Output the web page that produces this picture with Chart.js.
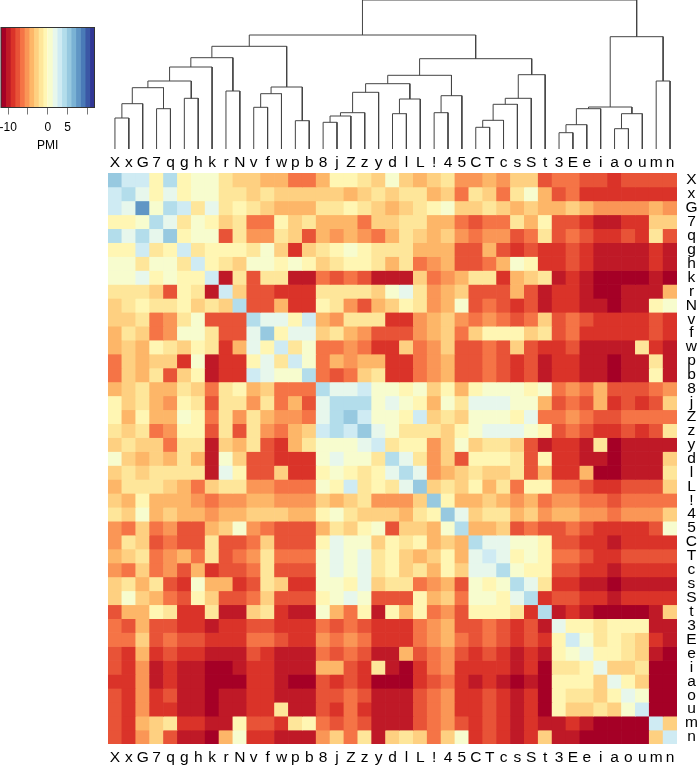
<!DOCTYPE html>
<html>
<head>
<meta charset="utf-8">
<script src="https://cdn.jsdelivr.net/npm/chart.js@4"></script>
<style>
  html, body { margin: 0; background: #fff; }
  canvas { position: absolute; }
</style>
</head>
<body>
<canvas id="key" width="110" height="160" style="left:0;top:0"></canvas>
<canvas id="tree" width="569" height="150" style="left:108px;top:0"></canvas>
<canvas id="heat" width="597" height="616" style="left:100px;top:150px"></canvas>
<script>
// labels, same order on rows and columns
var labels = ["X","x","G","7","q","g","h","k","r","N","v","f","w","p","b","8","j","Z","z","y","d","l","L","!","4","5","C","T","c","s","S","t","3","E","e","i","a","o","u","m","n"];

// PMI, one array per row
var pmi = [
[5,3,3,-1,4,-1,1,1,-2,-3,-3,-4,-4,-7,-7,-4,-1,-1,-2,-3,1,-3,-4,-3,-2,-5,-5,-4,-5,-3,-3,-8,-7,-7,-8,-8,-9,-8,-8,-8,-8],
[3,4,2,-1,2,-1,1,1,-2,-2,-3,-2,-3,-3,-3,-3,-3,-4,-3,-2,-3,-2,-2,-4,-3,-7,-2,-3,-7,-2,1,-4,-8,-7,-9,-9,-9,-9,-9,-9,-9],
[3,2,8,1,4,3,-2,2,-2,-1,-2,-3,-4,-4,-4,-2,-2,-1,-2,-3,-4,-3,-2,-1,1,-3,-3,-2,-3,-4,-3,-4,-4,-3,-4,-5,-5,-5,-5,-4,-5],
[-1,-1,1,4,2,-2,1,-1,-3,-2,-7,-7,-1,-3,-2,-4,-4,-4,-7,-3,-3,-2,-2,-4,-4,-7,-8,-7,-7,-2,-4,-1,-8,-8,-9,-10,-10,-9,-9,-3,-3],
[4,2,4,2,5,-1,1,1,-8,-2,-5,-5,-2,-3,-8,-4,-5,-4,-5,-7,-4,-2,-3,-4,-3,-5,-7,-5,-5,-8,-7,-2,-8,-7,-8,-9,-9,-8,-9,-2,-8],
[-1,-1,3,-2,-1,3,-2,-1,-1,-1,-2,1,-3,-9,-3,-2,-1,1,-1,-2,-2,-2,-4,-4,-4,-8,-8,-4,-8,-9,-8,-9,-9,-8,-9,-10,-10,-10,-10,-9,-10],
[1,1,-2,1,1,-2,3,-1,-2,-3,1,1,-1,1,-1,-3,-2,-1,-1,-2,-4,-2,-7,-5,-4,-8,-8,-7,-4,1,-1,-9,-9,-8,-9,-10,-10,-10,-10,-9,-10],
[1,1,2,-1,1,-1,-1,3,-10,-2,-8,-2,-2,-10,-10,-7,-8,-7,-8,-10,-10,-10,-3,-7,-5,-4,-2,-2,-9,-4,-3,-2,-10,-9,-10,-11,-11,-11,-11,-10,-11],
[-2,-2,-2,-3,-8,-1,-2,-10,3,-3,-8,-8,-9,-9,-9,-2,-2,-2,-2,-3,1,2,-2,-5,-4,-3,-8,-8,-8,-4,-8,-10,-9,-9,-10,-11,-11,-10,-10,-10,-4],
[-3,-2,-1,-2,-2,-1,-3,-2,-3,4,-8,-8,-4,-9,-9,-1,-2,-5,-8,-4,-3,-1,-2,-5,-4,1,-8,-7,-8,-9,-8,-10,-9,-9,-10,-10,-11,-10,-10,-1,1],
[-3,-3,-2,-7,-5,-2,1,-8,-8,-8,4,2,2,-1,3,-4,-5,-2,-2,-2,-9,-9,-5,-4,-3,-5,-7,-5,-7,-8,-7,-3,-8,-7,-8,-9,-9,-9,-9,-8,-9],
[-4,-2,-3,-7,-5,1,1,-2,-8,-8,2,5,-1,2,2,-3,-2,-4,-5,-8,-8,-8,-5,-4,-3,-7,-3,-1,-1,-1,-3,-2,-8,-7,-9,-9,-9,-9,-9,-8,-9],
[-4,-3,-4,-1,-2,-3,-1,-2,-9,-4,2,-1,3,-2,1,-7,-7,-5,-7,-9,-9,-3,-7,-5,-3,-8,-8,-7,-8,-3,-8,-9,-9,-8,-10,-10,-10,-10,-2,-9,-10],
[-7,-3,-4,-3,-3,-9,1,-10,-9,-9,-1,2,-2,3,1,-7,-4,-5,-4,-4,-9,-9,-7,-5,-4,-8,-8,-7,-8,-9,-8,-10,-9,-9,-10,-10,-11,-10,-10,-2,-10],
[-7,-3,-4,-2,-8,-3,-1,-10,-9,-9,3,2,1,1,4,-7,-8,-7,-3,-2,-9,-9,-7,-5,-4,-8,-8,-7,-8,-9,-8,-10,-9,-9,-10,-10,-11,-10,-10,-1,-10],
[-4,-3,-2,-4,-4,-2,-3,-7,-2,-1,-4,-3,-7,-7,-7,4,2,2,3,1,1,-1,1,-3,-1,-4,-1,1,1,1,-1,1,-7,-5,-7,-4,-8,-8,-8,-7,-5],
[-1,-3,-2,-4,-5,-1,-2,-8,-2,-2,-5,-2,-7,-4,-8,2,4,4,4,1,2,1,-1,-4,1,-2,2,2,2,1,1,-4,-8,-7,-8,-4,-9,-8,-9,-8,-3],
[-1,-4,-1,-4,-4,1,-1,-7,-2,-5,-2,-4,-5,-5,-7,2,4,5,3,1,1,-1,3,-3,-2,-3,1,1,1,-1,2,-7,-7,-5,-7,-8,-8,-7,-7,-7,-7],
[-2,-3,-2,-7,-5,-1,-1,-8,-2,-8,-2,-5,-7,-4,-3,3,4,3,5,2,1,-2,-2,-2,-3,-1,1,2,2,2,1,-1,-8,-7,-8,-9,-9,-8,-9,-8,-2],
[-3,-2,-3,-3,-7,-2,-2,-10,-3,-4,-2,-8,-9,-4,-2,1,1,1,2,3,-2,-1,-1,-5,-3,1,-3,-2,-2,-3,-8,-10,-9,-9,-10,-2,-11,-10,-10,-10,-10],
[1,-3,-4,-3,-4,-2,-4,-10,1,-3,-8,-8,-9,-9,-9,1,2,1,1,-2,4,2,-2,-5,-3,-8,-1,-1,-1,-2,-8,-1,-9,-9,-10,-10,-11,-10,-10,-10,-3],
[-3,-2,-3,-2,-2,-2,-2,-10,2,-1,-8,-8,-3,-9,-9,-1,1,-1,-2,-1,2,4,2,-5,-4,-3,-2,-3,-3,-2,-8,-4,-9,-9,-4,-11,-11,-10,-10,-10,-2],
[-4,-2,-2,-2,-3,-4,-7,-3,-2,-2,-5,-5,-7,-7,-7,1,-1,3,-2,-1,-2,2,5,-3,-2,-3,-1,-4,-2,-7,-1,-1,-7,-7,-8,-9,-9,-8,-8,-8,-3],
[-3,-4,-1,-4,-4,-4,-5,-7,-5,-5,-4,-4,-5,-5,-5,-3,-4,-3,-2,-5,-5,-5,-3,5,-1,-4,-4,-3,-4,-5,-4,-7,-5,-5,-7,-7,-8,-7,-7,-7,-7],
[-2,-3,1,-4,-3,-4,-4,-5,-4,-4,-3,-3,-3,-4,-4,-1,1,-2,-3,-3,-3,-4,-2,-1,5,2,-3,-2,-2,-4,-3,-5,-4,-4,-5,-5,-7,-5,-5,-5,-3],
[-5,-7,-3,-7,-5,-8,-8,-4,-3,1,-5,-7,-8,-8,-8,-4,-2,-3,-1,1,-8,-3,-3,-4,1,4,-4,-4,-3,-8,-7,-8,-8,-7,-8,-9,-9,-9,-9,-8,1],
[-5,-2,-3,-8,-7,-8,-8,-2,-8,-8,-7,-3,-8,-8,-8,-1,2,1,1,-3,-1,-2,-1,-4,-3,-4,4,2,2,1,1,-1,-8,-8,-9,-9,-10,-9,-9,-9,-9],
[-4,-3,-2,-7,-5,-4,-7,-2,-8,-7,-5,-2,-7,-7,-7,1,2,1,2,-2,-1,-3,-4,-3,-1,-4,2,3,2,-1,1,-1,-7,-7,-8,-9,-9,-8,-8,-8,-8],
[-5,-7,-3,-7,-5,-8,-4,-9,-8,-8,-7,-2,-8,-8,-8,1,2,1,2,-2,-1,-3,-2,-4,-1,-3,2,2,4,1,-1,-1,-8,-8,-9,-9,-10,-9,-9,-9,-9],
[-3,-2,-4,-2,-8,-9,1,-4,-4,-9,-8,-2,-3,-9,-9,1,1,-1,2,-3,-2,-2,-7,-5,-4,-8,1,-1,1,4,2,-2,-9,-9,-10,-10,-11,-10,-10,-10,-10],
[-3,1,-3,-4,-7,-8,-1,-3,-8,-8,-7,-3,-8,-8,-8,-1,1,2,1,-8,-8,-8,-1,-4,-3,-7,1,1,-1,2,4,-9,-8,-8,-9,-9,-10,-9,-9,-9,-9],
[-8,-4,-4,-1,-2,-9,-9,-2,-10,-10,-3,-2,-9,-10,-10,1,-4,-7,-1,-10,-1,-4,-1,-7,-5,-8,-1,-1,-1,-2,-9,4,-10,-9,-10,-11,-11,-11,-11,-10,-3],
[-7,-8,-4,-8,-8,-9,-9,-10,-9,-9,-8,-8,-9,-9,-9,-7,-8,-7,-8,-9,-9,-9,-7,-5,-4,-8,-8,-7,-8,-9,-8,-10,2,-1,-1,-2,-1,-1,-1,-10,-10],
[-7,-7,-3,-8,-7,-8,-8,-9,-9,-9,-7,-7,-8,-9,-9,-5,-7,-5,-7,-9,-9,-9,-7,-5,-4,-7,-8,-7,-8,-9,-8,-9,-1,3,1,-2,-1,-2,-3,-9,-10],
[-8,-9,-4,-9,-8,-9,-9,-10,-10,-10,-8,-9,-10,-10,-10,-7,-8,-7,-8,-10,-10,-4,-8,-7,-5,-8,-9,-8,-9,-10,-9,-10,-1,1,2,-1,-1,-2,-3,-10,-11],
[-8,-9,-5,-10,-9,-10,-10,-11,-11,-10,-9,-9,-10,-10,-10,-4,-4,-8,-9,-2,-10,-11,-9,-7,-5,-9,-9,-9,-9,-10,-9,-11,-2,-2,-1,2,-3,-3,-2,-11,-11],
[-9,-9,-5,-10,-9,-10,-10,-11,-11,-11,-9,-9,-10,-11,-11,-8,-9,-8,-9,-11,-11,-11,-9,-8,-7,-9,-10,-9,-10,-11,-10,-11,-1,-1,-1,-3,2,-1,-3,-11,-11],
[-8,-9,-5,-9,-8,-10,-10,-11,-10,-10,-9,-9,-10,-10,-10,-8,-8,-7,-8,-10,-10,-10,-8,-7,-5,-9,-9,-8,-9,-10,-9,-11,-1,-2,-2,-3,-1,2,1,-11,-11],
[-8,-9,-5,-9,-9,-10,-10,-11,-10,-10,-9,-9,-2,-10,-10,-8,-9,-7,-9,-10,-10,-10,-8,-7,-5,-9,-9,-8,-9,-10,-9,-11,-1,-3,-3,-2,-3,1,3,-11,-11],
[-8,-9,-4,-3,-2,-9,-9,-10,-10,-1,-8,-8,-9,-2,-1,-7,-8,-7,-8,-10,-10,-10,-8,-7,-5,-8,-9,-8,-9,-10,-9,-10,-10,-9,-10,-11,-11,-11,-11,3,-3],
[-8,-9,-5,-3,-8,-10,-10,-11,-4,1,-9,-9,-10,-10,-10,-5,-3,-7,-2,-10,-3,-2,-3,-7,-3,1,-9,-8,-9,-10,-9,-3,-10,-10,-11,-11,-11,-11,-11,-3,3]
];

// hclust style merges: [left, right, height], negative = leaf, positive = earlier merge
var merges = [
[-1,-2,31],[1,-3,45.3],[-4,-5,40.3],[2,3,61.3],[-6,-7,50.7],[4,5,68],[6,-8,82],[-9,-10,58],[7,8,91.3],
[-11,-12,41.7],[10,-13,55.3],[-14,-15,28.3],[11,12,62],[9,13,102.7],[-16,-17,26.7],[15,-18,33],[16,-19,36.3],
[17,-20,56.7],[-21,-22,35.3],[19,-23,50],[18,20,65.3],[-24,-25,36.3],[22,-26,53.3],[21,23,73.7],[-27,-28,21.7],
[25,-29,28.7],[26,-30,44.7],[27,-31,50.7],[28,-32,74.3],[24,29,90.3],[14,30,114],[-33,-34,16.3],[32,-35,24.3],
[33,-36,40.3],[-37,-38,20.3],[35,-39,35.3],[34,36,42],[-40,-41,68],[37,38,112.3],[31,39,149]
];

// colour key
var keyBreaks = [-11.8,-10.62,-9.44,-8.26,-7.08,-5.9,-4.72,-3.54,-2.36,-1.18,0,1.18,2.36,3.54,4.72,5.9,7.08,8.26,9.44,10.62,11.8];
var keyColors = ["#a50026","#bf1927","#da3329","#e85337","#f57446","#fa9656","#fdb668","#fed081","#fee69a","#fff6b3","#f7fcce","#e7f7ec","#cfebf3","#b3ddeb","#97c9e0","#7ab2d4","#6096c5","#4a7ab7","#3b57a5","#313695"];
var keyTicks = [-10,-5,0,5,10];
var keyTickLabels = ["-10","","0","5",""];

var FONT = "'Liberation Sans', Arial, sans-serif";
Chart.defaults.font.family = FONT;
Chart.defaults.animation = false;
Chart.defaults.plugins.legend.display = false;
Chart.defaults.plugins.tooltip.enabled = false;

function colorFor(v){
  for (var i = 0; i < keyColors.length; i++) {
    if (v < keyBreaks[i+1]) return keyColors[i];
  }
  return keyColors[keyColors.length-1];
}

// ---- colour key
var boxPlugin = {
  id: "box",
  afterDatasetsDraw: function(chart){
    var a = chart.chartArea, c = chart.ctx;
    c.save();
    c.strokeStyle = "#333";
    c.lineWidth = 1;
    c.strokeRect(a.left, a.top, a.right-a.left, a.bottom-a.top);
    c.restore();
  }
};

new Chart("key", {
  type: "bar",
  plugins: [boxPlugin],
  data: {
    labels: ["PMI"],
    datasets: keyColors.map(function(col, i){
      return { data: [[keyBreaks[i], keyBreaks[i+1]]], backgroundColor: col, grouped: false, barPercentage: 1, categoryPercentage: 1 };
    })
  },
  options: {
    indexAxis: "y",
    responsive: false,
    layout: { padding: { left: 1, top: 27.5, right: 15.5, bottom: 7 } },
    scales: {
      y: { display: false },
      x: {
        min: keyBreaks[0], max: keyBreaks[keyBreaks.length-1],
        afterBuildTicks: function(s){ s.ticks = keyTicks.map(function(v){ return {value: v}; }); },
        afterFit: function(s){ s.height = 45.5; s.paddingLeft = 0; s.paddingRight = 0; },
        grid: { drawOnChartArea: false, tickLength: 7, color: "#777" },
        border: { display: false },
        ticks: {
          autoSkip: false, maxRotation: 0, color: "#000", padding: 6, font: { size: 12 },
          callback: function(v, i){ return keyTickLabels[i]; }
        },
        title: { display: true, text: "PMI", color: "#000", font: { size: 12 }, padding: 0 }
      }
    }
  }
});

// ---- dendrogram
function leafX(id, centers){
  return id < 0 ? -id : centers[id-1];
}
var centers = [], tops = [];
var treeSets = merges.map(function(m){
  var xa = leafX(m[0], centers), xb = leafX(m[1], centers);
  var ya = m[0] < 0 ? 0 : tops[m[0]-1], yb = m[1] < 0 ? 0 : tops[m[1]-1];
  centers.push((xa+xb)/2);
  tops.push(m[2]);
  return {
    data: [{x:xa,y:ya},{x:xa,y:m[2]},{x:xb,y:m[2]},{x:xb,y:yb}],
    borderColor: "#444", borderWidth: 1, pointRadius: 0, clip: false, tension: 0, borderJoinStyle: "miter"
  };
});

new Chart("tree", {
  type: "line",
  data: { datasets: treeSets },
  options: {
    responsive: false,
    layout: { padding: 0 },
    scales: {
      x: { type: "linear", display: false, min: 0.5, max: 41.5 },
      y: { type: "linear", display: false, min: -1, max: 149 }
    }
  }
});

// ---- heatmap, one stacked dataset per row
var noGrid = { display: false, drawTicks: false };
var labelTicks = { autoSkip: false, maxRotation: 0, minRotation: 0, color: "#000", font: { size: 15.5 } };

new Chart("heat", {
  type: "bar",
  data: {
    labels: labels,
    datasets: pmi.map(function(row){
      return {
        data: row.map(function(){ return 1; }),
        backgroundColor: row.map(colorFor),
        borderWidth: 0, barPercentage: 1, categoryPercentage: 1
      };
    })
  },
  options: {
    responsive: false,
    layout: { padding: { left: 8 } },
    scales: {
      x: {
        stacked: true, position: "bottom", offset: true,
        grid: noGrid, border: { display: false },
        ticks: Object.assign({}, labelTicks, { padding: 4 }),
        afterFit: function(s){ s.height = 22; }
      },
      xTop: {
        type: "category", axis: "x", position: "top", labels: labels, offset: true,
        grid: noGrid, border: { display: false },
        ticks: Object.assign({}, labelTicks, { padding: 1 }),
        afterFit: function(s){ s.height = 23; }
      },
      y: { stacked: true, display: false, reverse: true, min: 0, max: 41 },
      yRow: {
        type: "category", axis: "y", position: "right", labels: labels, offset: true,
        grid: noGrid, border: { display: false },
        ticks: Object.assign({}, labelTicks, { crossAlign: "center", padding: 8 }),
        afterFit: function(s){ s.width = 20; }
      }
    }
  }
});
</script>
</body>
</html>
